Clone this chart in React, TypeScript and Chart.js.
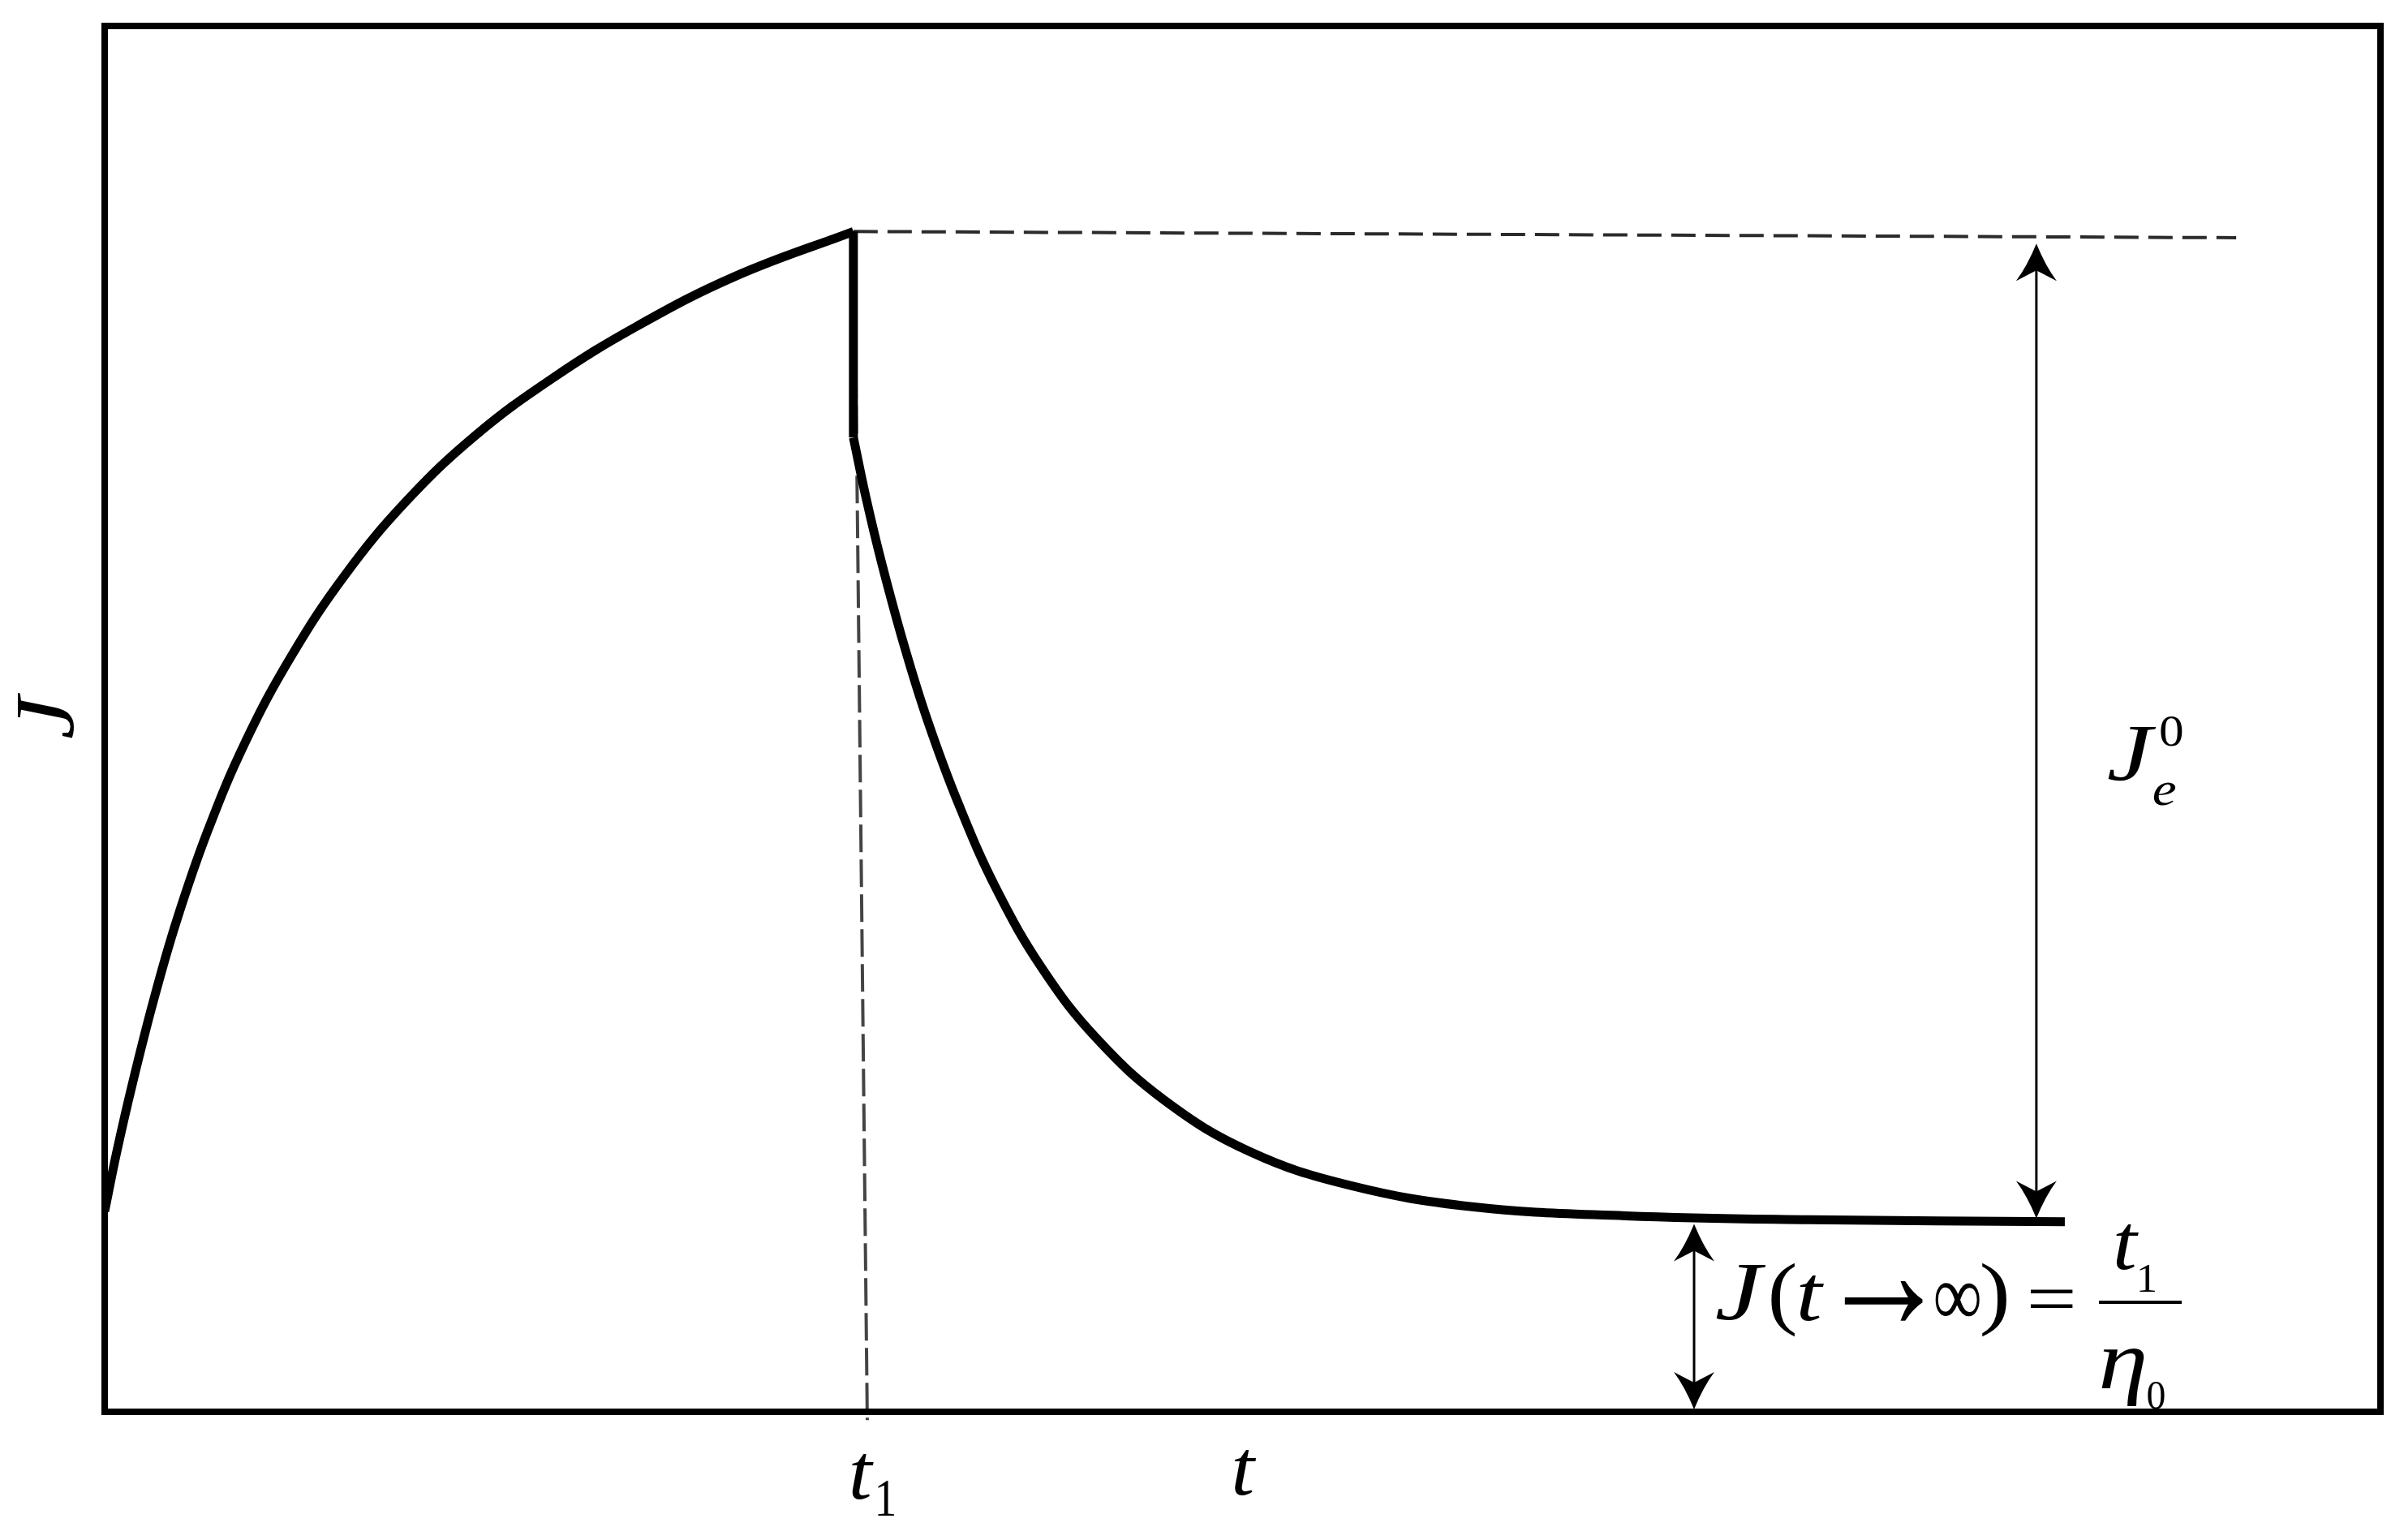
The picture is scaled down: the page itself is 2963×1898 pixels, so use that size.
import React, { useEffect, useRef } from "react";
import { Chart, registerables } from "chart.js";

Chart.register(...registerables);

// ---- data (t and J in arbitrary units; frame spans t 0..10, J 0..10) ----
const creepT = [0, 0.052, 0.12, 0.214, 0.315, 0.45, 0.618, 0.82, 1.056, 1.325, 1.629, 1.965, 2.336, 2.774, 3.29];
const creepJ = [1.447, 1.867, 2.354, 2.963, 3.538, 4.18, 4.832, 5.452, 6.038, 6.57, 7.045, 7.455, 7.831, 8.196, 8.517];

const dropT = [3.29, 3.29];
const dropJ = [8.517, 7.03];

const recoveryT = [3.29, 3.346, 3.414, 3.515, 3.616, 3.751, 3.919, 4.121, 4.357, 4.66, 5.031, 5.469, 6.008, 6.681, 7.49, 8.613];
const recoveryJ = [7.03, 6.592, 6.127, 5.518, 4.987, 4.39, 3.77, 3.195, 2.697, 2.244, 1.878, 1.635, 1.48, 1.414, 1.386, 1.372];

const peakGuideT = [3.29, 9.366];
const peakGuideJ = [8.517, 8.472];

const t1GuideT = [3.294, 3.351];
const t1GuideJ = [8.517, -0.06];

const t1Tick = 3.351;

// double arrows: x position, top tip, bottom tip
const arrowXs = [8.488, 6.984];
const arrowTops = [8.43, 1.355];
const arrowBottoms = [1.396, 0.018];

const xAxisTitle = "t";
const yAxisTitle = "J";

const SERIF = '"Liberation Serif", "Times New Roman", "DejaVu Serif", serif';

const pts = (xs: number[], ys: number[]) => xs.map((x, i) => ({ x, y: ys[i] }));

function arrowHead(ctx: CanvasRenderingContext2D, x: number, y: number, dir: number) {
  // dir = +1 -> pointing down, -1 -> pointing up
  const L = 46, W = 25, N = 33;
  ctx.beginPath();
  ctx.moveTo(x, y);
  ctx.quadraticCurveTo(x - W * 0.45, y - dir * L * 0.6, x - W, y - dir * L);
  ctx.lineTo(x, y - dir * N);
  ctx.lineTo(x + W, y - dir * L);
  ctx.quadraticCurveTo(x + W * 0.45, y - dir * L * 0.6, x, y);
  ctx.closePath();
  ctx.fill();
}

type FontFn = (s: number) => string;
const IT: FontFn = (s) => `italic ${s}px ${SERIF}`;
const RM: FontFn = (s) => `${s}px ${SERIF}`;

// draw text so that its ink box fills [left,right] x [top,bottom]
function fitText(
  ctx: CanvasRenderingContext2D,
  txt: string,
  font: FontFn,
  left: number,
  top: number,
  right: number,
  bottom: number
) {
  ctx.font = font(100);
  const m = ctx.measureText(txt);
  const iw = m.actualBoundingBoxLeft + m.actualBoundingBoxRight;
  const ih = m.actualBoundingBoxAscent + m.actualBoundingBoxDescent;
  const sx = iw > 0 ? (right - left) / iw : 1;
  const sy = ih > 0 ? (bottom - top) / ih : 1;
  ctx.save();
  ctx.translate(left, top);
  ctx.scale(sx, sy);
  ctx.textAlign = "left";
  ctx.textBaseline = "alphabetic";
  ctx.fillText(txt, m.actualBoundingBoxLeft, m.actualBoundingBoxAscent);
  ctx.restore();
}

const annotations = {
  id: "annotations",
  afterDatasetsDraw(chart: any) {
    const { ctx, chartArea, scales } = chart;
    const xs = scales.x, ys = scales.y;
    ctx.save();
    // frame
    ctx.strokeStyle = "#000";
    ctx.lineWidth = 8;
    ctx.strokeRect(chartArea.left, chartArea.top, chartArea.right - chartArea.left, chartArea.bottom - chartArea.top);

    // double arrows
    ctx.fillStyle = "#000";
    ctx.lineWidth = 3;
    arrowXs.forEach((ax, i) => {
      const px = xs.getPixelForValue(ax);
      const pTop = ys.getPixelForValue(arrowTops[i]);
      const pBot = ys.getPixelForValue(arrowBottoms[i]);
      ctx.beginPath();
      ctx.moveTo(px, pTop + 20);
      ctx.lineTo(px, pBot - 20);
      ctx.stroke();
      arrowHead(ctx, px, pTop, -1);
      arrowHead(ctx, px, pBot, 1);
    });
    ctx.restore();
  },
  afterDraw(chart: any) {
    const { ctx, chartArea, scales } = chart;
    const xs = scales.x;
    ctx.save();
    ctx.fillStyle = "#000";

    // y axis title (rotated)
    ctx.save();
    ctx.translate(chartArea.left - 37, (chartArea.top + chartArea.bottom) / 2 + 24);
    ctx.rotate(-Math.PI / 2);
    fitText(ctx, yAxisTitle, IT, 0, -69, 57, 0);
    ctx.restore();

    // x axis title
    const cx = (chartArea.left + chartArea.right) / 2;
    fitText(ctx, xAxisTitle, IT, cx - 10, 1788, cx + 17, 1843);

    // t1 tick label
    const tp = xs.getPixelForValue(t1Tick);
    fitText(ctx, "t", IT, tp - 19, 1793, tp + 8, 1848);
    fitText(ctx, "1", RM, tp + 13, 1825, tp + 33, 1868);

    // J_e^0 label
    const a0 = xs.getPixelForValue(arrowXs[0]);
    fitText(ctx, "J", IT, a0 + 88, 897, a0 + 148, 963);
    fitText(ctx, "0", RM, a0 + 153, 882, a0 + 180, 920);
    fitText(ctx, "e", IT, a0 + 145, 965, a0 + 172, 993);

    // J(t -> inf) = t1 / eta0
    const a1 = xs.getPixelForValue(arrowXs[1]);
    fitText(ctx, "J", IT, a1 + 27, 1560, a1 + 89, 1628);
    fitText(ctx, "(", RM, a1 + 95, 1557, a1 + 125, 1648);
    fitText(ctx, "t", IT, a1 + 130, 1573, a1 + 160, 1628);
    fitText(ctx, "\u2192", RM, a1 + 185, 1578, a1 + 282, 1628);
    fitText(ctx, "\u221E", RM, a1 + 297, 1580, a1 + 352, 1623);
    fitText(ctx, ")", RM, a1 + 355, 1557, a1 + 385, 1648);
    fitText(ctx, "=", RM, a1 + 414, 1590, a1 + 467, 1612);
    ctx.strokeStyle = "#000";
    ctx.lineWidth = 4;
    ctx.beginPath();
    ctx.moveTo(a1 + 499, 1605);
    ctx.lineTo(a1 + 601, 1605);
    ctx.stroke();
    fitText(ctx, "t", IT, a1 + 520, 1510, a1 + 548, 1565);
    fitText(ctx, "1", RM, a1 + 549, 1558, a1 + 568, 1592);
    fitText(ctx, "\u03B7", IT, a1 + 502, 1663, a1 + 555, 1733);
    fitText(ctx, "0", RM, a1 + 559, 1702, a1 + 580, 1737);
    ctx.restore();
  },
};

export default function App() {
  const ref = useRef<HTMLCanvasElement>(null);
  useEffect(() => {
    document.body.style.margin = "0";
    const solid = { borderColor: "#000", borderWidth: 11, pointRadius: 0, fill: false, borderJoinStyle: "miter" };
    const dashed = { borderColor: "#2b2b2b", borderWidth: 4, borderDash: [30, 12], pointRadius: 0, fill: false, tension: 0 };
    const chart = new Chart(ref.current!, {
      type: "line",
      data: {
        datasets: [
          { label: "creep", data: pts(creepT, creepJ), ...solid, tension: 0.4 } as any,
          { label: "drop", data: pts(dropT, dropJ), ...solid, tension: 0 } as any,
          { label: "recovery", data: pts(recoveryT, recoveryJ), ...solid, tension: 0.4 } as any,
          { label: "peak level", data: pts(peakGuideT, peakGuideJ), ...dashed } as any,
          { label: "t1", data: pts(t1GuideT, t1GuideJ), ...dashed, borderColor: "#444", borderDash: [34, 9], clip: false } as any,
        ],
      },
      options: {
        responsive: false,
        animation: false,
        layout: { padding: { left: 129, top: 32, right: 29, bottom: 158 } },
        scales: {
          x: { type: "linear", min: 0, max: 10, display: false },
          y: { type: "linear", min: 0, max: 10, display: false },
        },
        plugins: { legend: { display: false }, tooltip: { enabled: false } },
      },
      plugins: [annotations],
    });
    return () => chart.destroy();
  }, []);
  return (
    <canvas
      ref={ref}
      width={2963}
      height={1898}
      style={{ position: "absolute", left: 0, top: 0, display: "block", background: "#fff" }}
    />
  );
}
